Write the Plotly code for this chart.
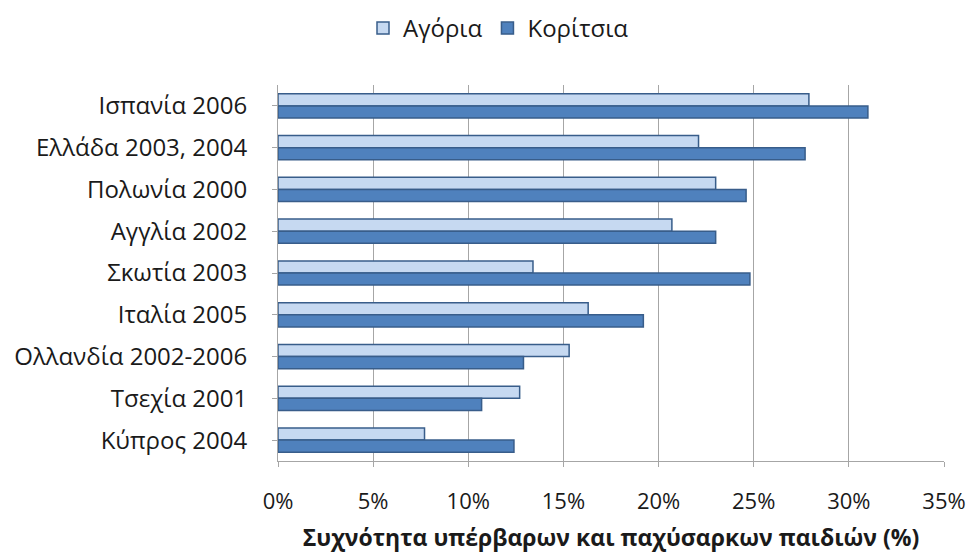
import plotly.graph_objects as go

categories = ["Ισπανία 2006", "Ελλάδα 2003, 2004", "Πολωνία 2000", "Αγγλία 2002",
              "Σκωτία 2003", "Ιταλία 2005", "Ολλανδία 2002-2006", "Τσεχία 2001", "Κύπρος 2004"]
boys = [0.279, 0.221, 0.230, 0.207, 0.134, 0.163, 0.153, 0.127, 0.077]
girls = [0.310, 0.277, 0.246, 0.230, 0.248, 0.192, 0.129, 0.107, 0.124]
x_ticks = [0, 0.05, 0.10, 0.15, 0.20, 0.25, 0.30, 0.35]
x_tick_labels = ["0%", "5%", "10%", "15%", "20%", "25%", "30%", "35%"]

font_family = "Open Sans, Noto Sans, sans-serif"

fig = go.Figure()
fig.add_trace(go.Bar(name="Αγόρια", y=categories, x=boys, orientation="h",
                     marker=dict(color="#C6D9F1", line=dict(color="#385D8A", width=1.5))))
fig.add_trace(go.Bar(name="Κορίτσια", y=categories, x=girls, orientation="h",
                     marker=dict(color="#4F81BD", line=dict(color="#385D8A", width=1.5))))

fig.update_layout(
    width=971, height=553,
    margin=dict(l=278, r=27, t=85, b=92),
    barmode="group", bargap=0.42, bargroupgap=0,
    plot_bgcolor="white", paper_bgcolor="white",
    font=dict(family=font_family, size=22, color="#1a1a1a"),
    legend=dict(orientation="h", x=363 / 971, xanchor="left", xref="container",
                y=1 - 6 / 553, yanchor="top", yref="container",
                font=dict(size=24), itemwidth=30, traceorder="normal"),
    xaxis=dict(range=[0, 0.35], tickvals=x_ticks, ticktext=x_tick_labels,
               showgrid=True, gridcolor="#A6A6A6", gridwidth=1,
               showline=True, linecolor="#A6A6A6", linewidth=1,
               ticks="outside", ticklen=5, tickcolor="#A6A6A6",
               tickfont=dict(size=22), zeroline=False, automargin=False,
               ticklabelstandoff=16,
               title=dict(text="<b>Συχνότητα υπέρβαρων και παχύσαρκων παιδιών (%)</b>",
                          font=dict(size=23), standoff=26)),
    yaxis=dict(autorange="reversed", showline=True, linecolor="#A6A6A6", linewidth=1,
               ticks="outside", ticklen=5, tickcolor="#A6A6A6",
               tickfont=dict(size=24), automargin=False, ticklabelstandoff=20),
)

fig.write_html("out.html", config={"displayModeBar": False},
               post_script="document.body.style.margin='0px';")
